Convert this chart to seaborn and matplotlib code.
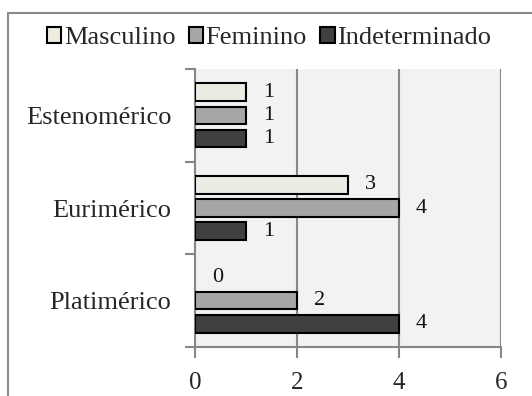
import matplotlib
matplotlib.use("Agg")
import matplotlib.pyplot as plt
import matplotlib.patches as mpatches
import seaborn as sns
import pandas as pd

categories = ["Estenomérico", "Eurimérico", "Platimérico"]
series = ["Masculino", "Feminino", "Indeterminado"]
masculino = [1, 3, 0]
feminino = [1, 4, 2]
indeterminado = [1, 1, 4]
x_ticks = [0, 2, 4, 6]
colors = ["#eeece1", "#a6a6a6", "#404040"]

df = pd.DataFrame({
    "categoria": categories * 3,
    "sexo": [s for s in series for _ in categories],
    "valor": masculino + feminino + indeterminado,
})

sns.set_theme(style="white")
plt.rcParams["font.family"] = ["Liberation Serif", "DejaVu Serif"]

fig = plt.figure(figsize=(5.32, 3.96), dpi=100)
ax = fig.add_axes([195 / 532, 1 - 347 / 396, 306 / 532, 278 / 396])
ax.set_facecolor("#f2f2f2")

sns.barplot(data=df, y="categoria", x="valor", hue="sexo", order=categories,
            hue_order=series, palette=colors, orient="h", width=0.75, gap=0.25,
            edgecolor="black", linewidth=1.5, ax=ax, legend=False, zorder=3)

# empty bars carry no outline
for p in ax.patches:
    if p.get_width() == 0:
        p.set_linewidth(0)

for cont in ax.containers:
    ax.bar_label(cont, fmt="%d", padding=12, fontsize=16, color="#111111")

ax.set_xlim(0, 6)
ax.set_ylim(2.5, -0.5)
ax.set_xticks(x_ticks)
ax.set_xticklabels([str(t) for t in x_ticks], fontsize=18)
ax.set_yticks(range(len(categories)))
ax.set_yticklabels(categories, fontsize=19)
ax.set_yticks([-0.5, 0.5, 1.5, 2.5], minor=True)
ax.tick_params(axis="y", which="major", length=0, pad=17)
ax.tick_params(axis="y", which="minor", length=7, width=1.5, color="#868686", left=True)
ax.tick_params(axis="x", which="major", length=8, width=1.5, color="#868686",
               bottom=True, pad=10)
ax.set_xlabel("")
ax.set_ylabel("")

for v in x_ticks[1:]:
    ax.axvline(v, color="#868686", lw=1.5, zorder=1)

for side in ["top", "right"]:
    ax.spines[side].set_visible(False)
for side in ["left", "bottom"]:
    ax.spines[side].set_color("#868686")
    ax.spines[side].set_linewidth(1.5)

handles = [mpatches.Patch(facecolor=c, edgecolor="black", linewidth=1.5, label=s)
           for s, c in zip(series, colors)]
fig.legend(handles=handles, loc="center", bbox_to_anchor=(269 / 532, 1 - 38 / 396),
           ncol=3, frameon=False, fontsize=19, handlelength=0.55, handleheight=0.55,
           handletextpad=0.1, columnspacing=0.5, borderaxespad=0)

fig.patches.append(mpatches.Rectangle((8 / 532, -0.1), 1.2, 1 - 13 / 396 + 0.1,
                                      transform=fig.transFigure, fill=False,
                                      edgecolor="#8a8a8a", lw=1.5, zorder=0))

fig.savefig("out.png", dpi=100)
